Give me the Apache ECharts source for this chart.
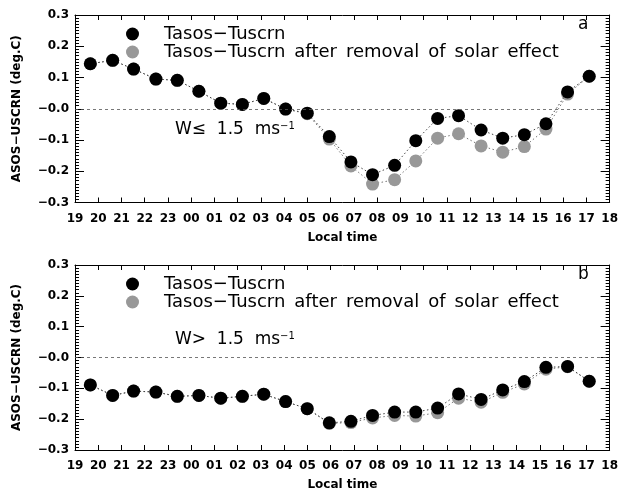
<!DOCTYPE html>
<html><head><meta charset="utf-8">
<script src="https://cdn.jsdelivr.net/npm/echarts@6/dist/echarts.min.js"></script>
<style>html,body{margin:0;padding:0;background:#fff}#c{width:621px;height:492px}</style>
</head><body><div id="c"></div>
<script>
var hourLabels = ['19','20','21','22','23','00','01','02','03','04','05','06','07','08','09','10','11','12','13','14','15','16','17','18'];
// x positions of the points (hours after 19 local time)
var xPos = [0.66,1.62,2.52,3.48,4.40,5.33,6.27,7.20,8.12,9.06,9.99,10.94,11.87,12.80,13.75,14.66,15.60,16.50,17.47,18.40,19.33,20.26,21.19,22.12];
// panel a : W <= 1.5 m/s
var aRaw = [0.144,0.155,0.127,0.095,0.091,0.056,0.018,0.014,0.033,-0.001,-0.014,-0.089,-0.170,-0.211,-0.181,-0.102,-0.031,-0.022,-0.068,-0.094,-0.083,-0.048,0.054,0.104];
var aCorr = [0.144,0.155,0.127,0.095,0.091,0.056,0.018,0.014,0.033,-0.001,-0.016,-0.097,-0.183,-0.241,-0.227,-0.167,-0.094,-0.080,-0.119,-0.139,-0.121,-0.065,0.047,0.104];
// panel b : W > 1.5 m/s
var bRaw = [-0.089,-0.123,-0.109,-0.112,-0.126,-0.123,-0.132,-0.126,-0.119,-0.143,-0.166,-0.212,-0.207,-0.188,-0.177,-0.177,-0.164,-0.118,-0.136,-0.105,-0.078,-0.032,-0.029,-0.077];
var bCorr = [-0.089,-0.123,-0.109,-0.112,-0.126,-0.123,-0.132,-0.126,-0.119,-0.143,-0.166,-0.214,-0.211,-0.196,-0.188,-0.190,-0.179,-0.132,-0.145,-0.113,-0.086,-0.038,-0.030,-0.077];
var yTicks = [-0.3,-0.2,-0.1,0.0,0.1,0.2,0.3];
var nameRaw = 'Tasos\u2212Tuscrn';
var nameCorr = 'Tasos\u2212Tuscrn\u2002after\u2002removal\u2002of\u2002solar\u2002effect';

function pairs(xs, ys){ return xs.map(function(x,i){ return [x, ys[i]]; }); }
var boldFont = 'DejaVu Sans';
function yFmt(v){ var r = Math.round(v*10)/10; return (r<=0?'\u2212':'') + Math.abs(r).toFixed(1); }

var grids = [
  {left:75, right:10, top:15, height:187.5},
  {left:75, right:10, top:265, height:187}
];
var xAxes = [], yAxes = [];
[0,1].forEach(function(g){
  xAxes.push({type:'value', gridIndex:g, min:0, max:hourLabels.length-1, interval:1, position:'bottom',
    name:'Local time', nameLocation:'middle', nameGap:29,
    nameTextStyle:{fontFamily:boldFont, fontWeight:'bold', fontSize:12, color:'#000'},
    axisLine:{show:true, onZero:false, lineStyle:{color:'#000', width:1}},
    axisTick:{show:true, inside:true, length:5, lineStyle:{color:'#000'}},
    axisLabel:{show:true, margin:10, fontFamily:boldFont, fontWeight:'bold', fontSize:12, color:'#000',
      formatter:function(v){ return hourLabels[Math.round(v)]; }},
    splitLine:{show:false}});
  xAxes.push({type:'value', gridIndex:g, min:0, max:hourLabels.length-1, interval:1, position:'top',
    axisLine:{show:true, onZero:false, lineStyle:{color:'#000', width:1}},
    axisTick:{show:true, inside:true, length:5, lineStyle:{color:'#000'}},
    axisLabel:{show:false}, splitLine:{show:false}});
  yAxes.push({type:'value', gridIndex:g, min:yTicks[0], max:yTicks[yTicks.length-1], interval:0.1, position:'left',
    name:'ASOS\u2212USCRN (deg.C)', nameLocation:'middle', nameGap:52, nameRotate:90,
    nameTextStyle:{fontFamily:boldFont, fontWeight:'bold', fontSize:12, color:'#000'},
    axisLine:{show:true, onZero:false, lineStyle:{color:'#000', width:1}},
    axisTick:{show:true, inside:true, length:9, lineStyle:{color:'#000'}},
    minorTick:{show:true, splitNumber:10, length:4, lineStyle:{color:'#000'}},
    axisLabel:{show:true, margin:6, fontFamily:boldFont, fontWeight:'bold', fontSize:12, color:'#000', formatter:yFmt},
    splitLine:{show:false}, minorSplitLine:{show:false}});
  yAxes.push({type:'value', gridIndex:g, min:yTicks[0], max:yTicks[yTicks.length-1], interval:0.1, position:'right',
    axisLine:{show:true, onZero:false, lineStyle:{color:'#000', width:1}},
    axisTick:{show:true, inside:true, length:9, lineStyle:{color:'#000'}},
    minorTick:{show:true, splitNumber:10, length:4, lineStyle:{color:'#000'}},
    axisLabel:{show:false}, splitLine:{show:false}, minorSplitLine:{show:false}});
});

function mkSeries(name, data, g, color, lineColor, z, withZero){
  var s = {name:name, type:'line', xAxisIndex:g*2, yAxisIndex:g*2, data:data,
    symbol:'circle', symbolSize:13, z:z,
    itemStyle:{color:color, borderWidth:0},
    lineStyle:{color:lineColor, width:1, type:[1.5,2.5]},
    emphasis:{disabled:true}, animation:false};
  if(withZero){
    s.markLine = {silent:true, symbol:'none', label:{show:false},
      lineStyle:{color:'#555', width:0.8, type:[3,3]}, data:[{yAxis:0}], animation:false};
  }
  return s;
}
var gray = '#989898';
var series = [
  mkSeries(nameCorr, pairs(xPos,aCorr), 0, gray, '#777', 2, false),
  mkSeries(nameRaw, pairs(xPos,aRaw), 0, '#000', '#444', 3, true),
  mkSeries(nameCorr, pairs(xPos,bCorr), 1, gray, '#777', 2, false),
  mkSeries(nameRaw, pairs(xPos,bRaw), 1, '#000', '#444', 3, true)
];
function mkLegend(top){
  return {show:true, orient:'vertical', left:121, top:top, itemWidth:13, itemHeight:13, itemGap:0,
    icon:'circle', selectedMode:false, data:[nameRaw, nameCorr],
    textStyle:{fontFamily:'DejaVu Sans', fontSize:18, lineHeight:17, color:'#000', padding:[0,0,0,20]}};
}
var chart = echarts.init(document.getElementById('c'), null, {renderer:'canvas'});
chart.setOption({
  animation:false,
  backgroundColor:'#fff',
  grid:grids, xAxis:xAxes, yAxis:yAxes, series:series,
  legend:[mkLegend(20), mkLegend(270)],
  graphic:[
    {type:'text', left:578, top:16, style:{text:'a', fontFamily:'DejaVu Sans', fontSize:17, fill:'#000'}},
    {type:'text', left:578, top:266, style:{text:'b', fontFamily:'DejaVu Sans', fontSize:17, fill:'#000'}},
    {type:'text', left:175, top:121, style:{text:'{n|W\u2264  1.5  ms}{s|\u22121}', fontFamily:'DejaVu Sans', fill:'#000',
      rich:{n:{fontFamily:'DejaVu Sans', fontSize:17, fill:'#000'}, s:{fontFamily:'DejaVu Sans', fontSize:10, fill:'#000', verticalAlign:'top', padding:[0,0,8,0]}}}},
    {type:'text', left:175, top:331, style:{text:'{n|W>  1.5  ms}{s|\u22121}', fontFamily:'DejaVu Sans', fill:'#000',
      rich:{n:{fontFamily:'DejaVu Sans', fontSize:17, fill:'#000'}, s:{fontFamily:'DejaVu Sans', fontSize:10, fill:'#000', verticalAlign:'top', padding:[0,0,8,0]}}}}
  ]
});
</script></body></html>
